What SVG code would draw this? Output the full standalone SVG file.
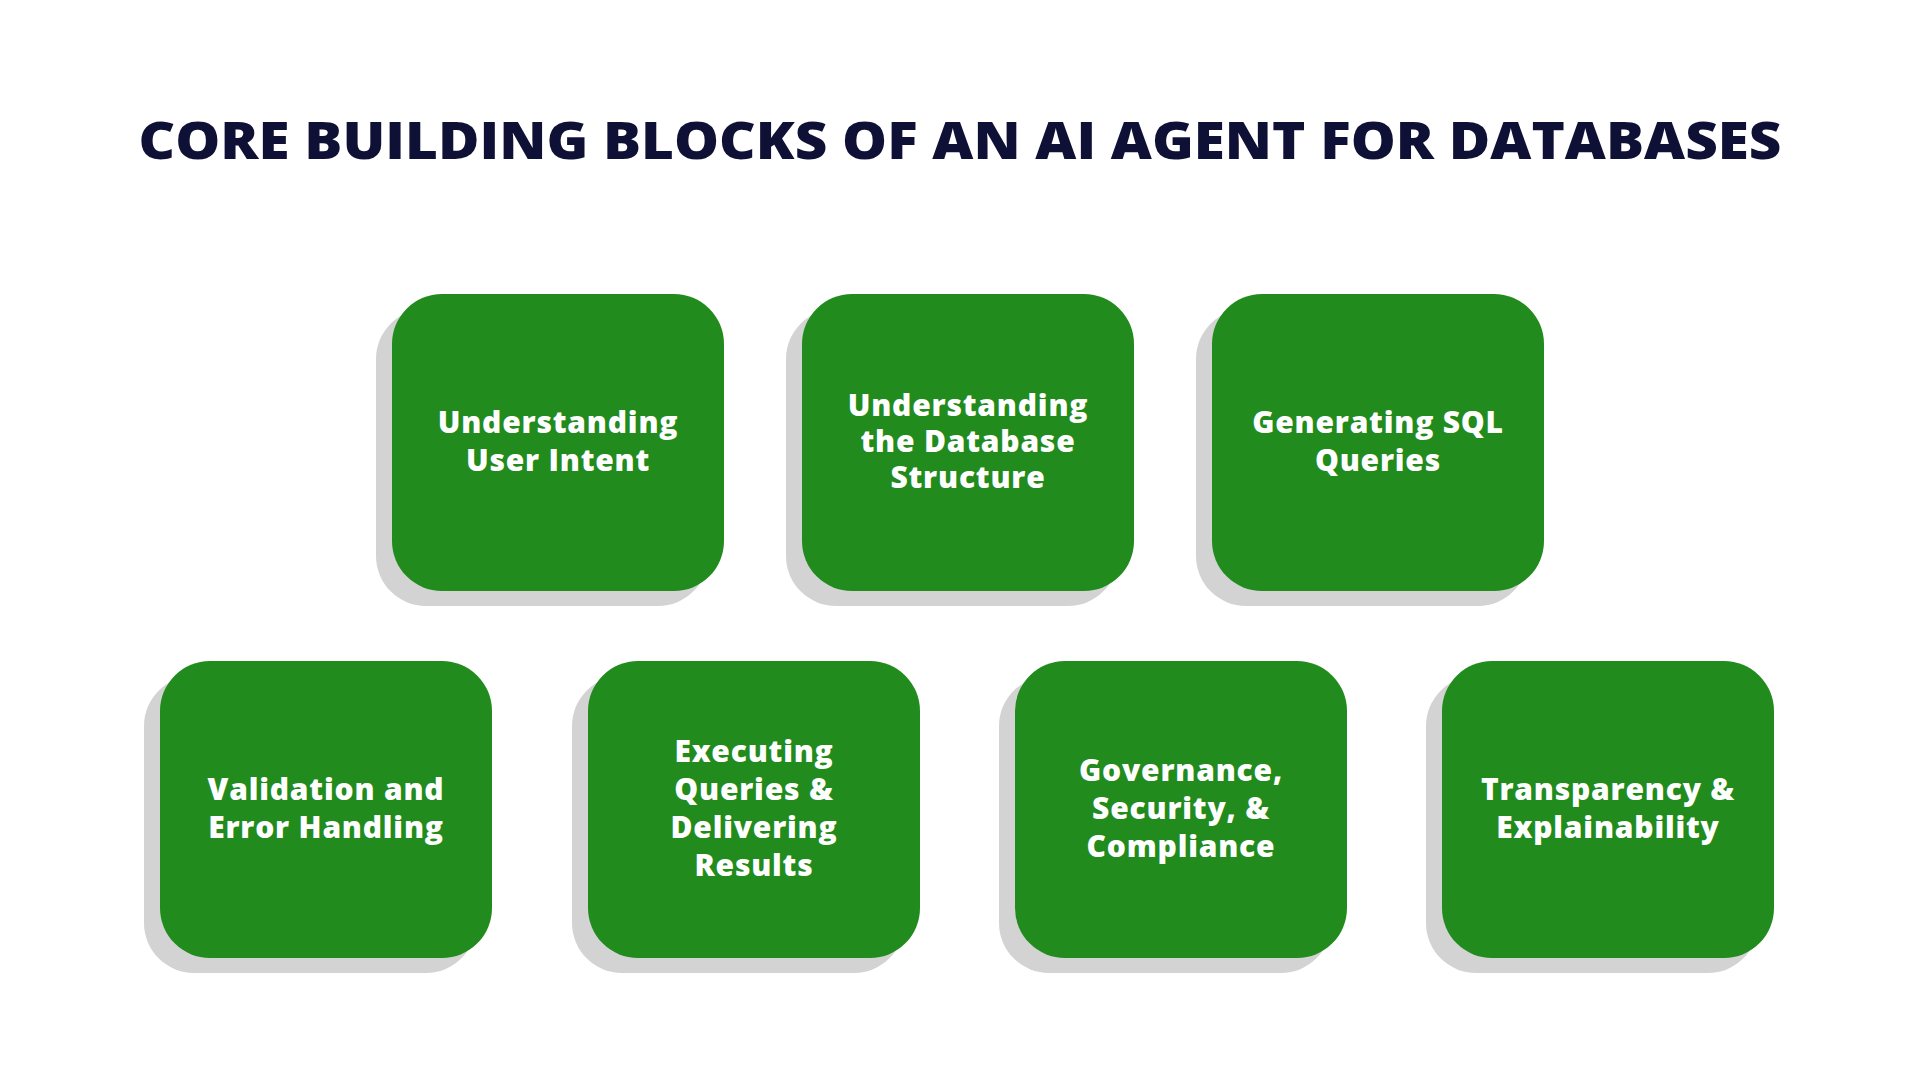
<svg xmlns="http://www.w3.org/2000/svg" width="1920" height="1080" viewBox="0 0 1920 1080">
<style>
.sh{fill:#d3d3d3}
.bx{fill:#228b1e}
.t{font-family:"Open Sans","Liberation Sans",sans-serif;font-weight:800;font-size:30px;letter-spacing:0.8px;fill:#fff;text-anchor:middle}
.ti{font-family:"Open Sans","Liberation Sans",sans-serif;font-weight:800;font-size:52px;fill:#0f1035;text-anchor:middle}
</style>
<rect width="1920" height="1080" fill="#fff"/>
<text class="ti" x="960" y="159" textLength="1643" lengthAdjust="spacingAndGlyphs">CORE BUILDING BLOCKS OF AN AI AGENT FOR DATABASES</text>
<g id="n1"><rect class="sh" x="376" y="309" width="332" height="297" rx="50"/><rect class="bx" x="392" y="294" width="332" height="297" rx="50"/><text class="t"><tspan x="558" y="433">Understanding</tspan><tspan x="558" y="471">User Intent</tspan></text></g>
<g id="n2"><rect class="sh" x="786" y="309" width="332" height="297" rx="50"/><rect class="bx" x="802" y="294" width="332" height="297" rx="50"/><text class="t"><tspan x="968" y="416">Understanding</tspan><tspan x="968" y="452">the Database</tspan><tspan x="968" y="488">Structure</tspan></text></g>
<g id="n3"><rect class="sh" x="1196" y="309" width="332" height="297" rx="50"/><rect class="bx" x="1212" y="294" width="332" height="297" rx="50"/><text class="t"><tspan x="1378" y="433">Generating SQL</tspan><tspan x="1378" y="471">Queries</tspan></text></g>
<g id="n4"><rect class="sh" x="144" y="676" width="332" height="297" rx="50"/><rect class="bx" x="160" y="661" width="332" height="297" rx="50"/><text class="t"><tspan x="326" y="800">Validation and</tspan><tspan x="326" y="838">Error Handling</tspan></text></g>
<g id="n5"><rect class="sh" x="572" y="676" width="332" height="297" rx="50"/><rect class="bx" x="588" y="661" width="332" height="297" rx="50"/><text class="t"><tspan x="754" y="762">Executing</tspan><tspan x="754" y="800">Queries &amp;</tspan><tspan x="754" y="838">Delivering</tspan><tspan x="754" y="876">Results</tspan></text></g>
<g id="n6"><rect class="sh" x="999" y="676" width="332" height="297" rx="50"/><rect class="bx" x="1015" y="661" width="332" height="297" rx="50"/><text class="t"><tspan x="1181" y="781">Governance,</tspan><tspan x="1181" y="819">Security, &amp;</tspan><tspan x="1181" y="857">Compliance</tspan></text></g>
<g id="n7"><rect class="sh" x="1426" y="676" width="332" height="297" rx="50"/><rect class="bx" x="1442" y="661" width="332" height="297" rx="50"/><text class="t"><tspan x="1608" y="800">Transparency &amp;</tspan><tspan x="1608" y="838">Explainability</tspan></text></g>
<g id="connectors"/>
</svg>
